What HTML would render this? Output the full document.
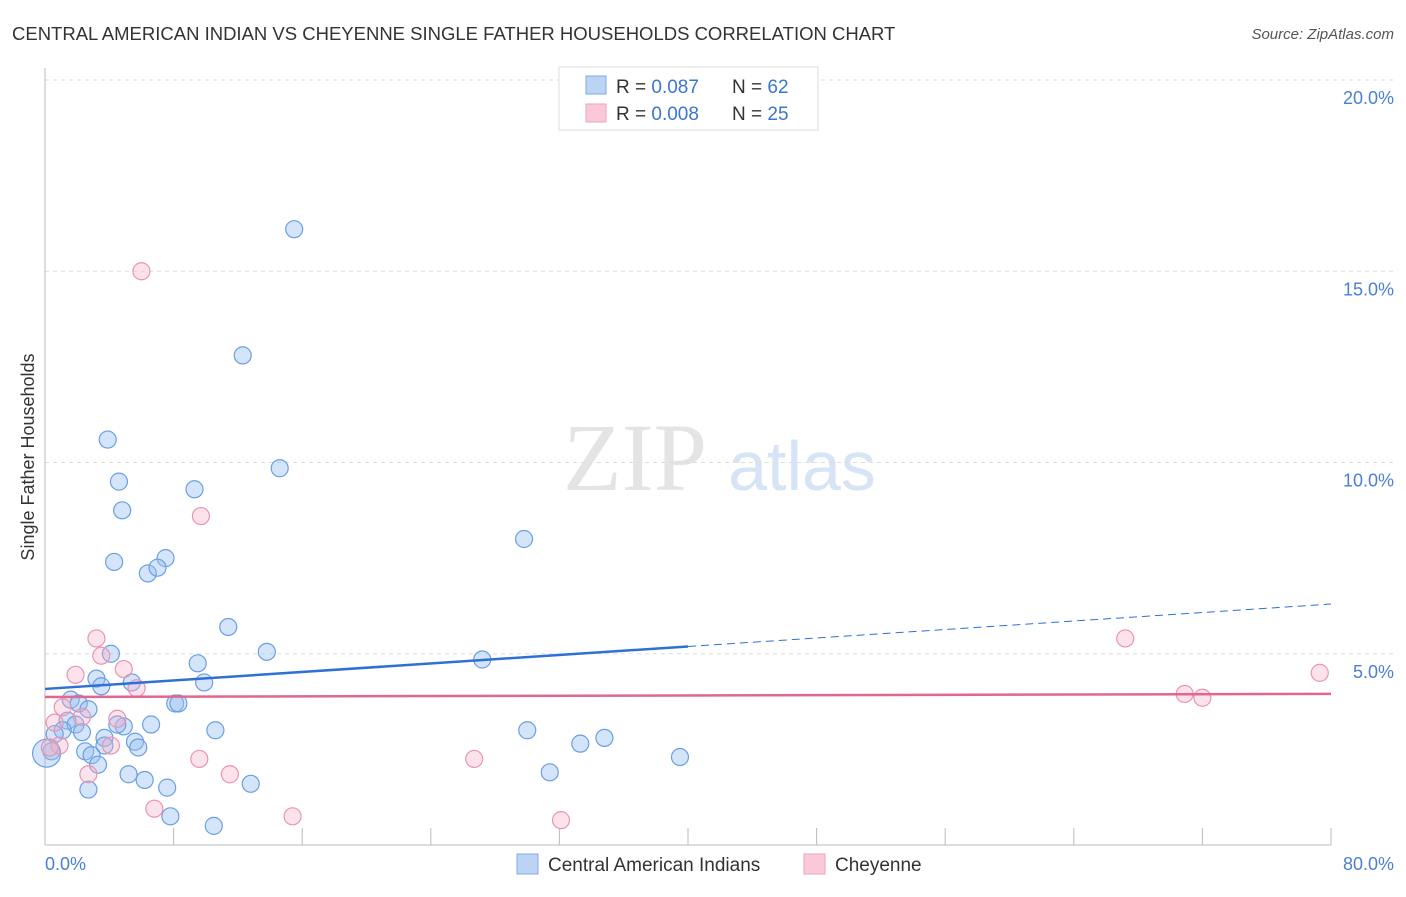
<!DOCTYPE html>
<html><head><meta charset="utf-8"><style>
body{margin:0;background:#fff;font-family:"Liberation Sans",sans-serif}
</style></head><body>
<svg width="1406" height="892" viewBox="0 0 1406 892" xmlns="http://www.w3.org/2000/svg" font-family="Liberation Sans, sans-serif">
<text x="12" y="40" font-size="18.5" fill="#333">CENTRAL AMERICAN INDIAN VS CHEYENNE SINGLE FATHER HOUSEHOLDS CORRELATION CHART</text>
<text x="1394" y="39" font-size="15" fill="#555" font-style="italic" text-anchor="end">Source: ZipAtlas.com</text>
<g><text x="635" y="490" font-size="96" fill="#e4e4e4" font-family="Liberation Serif, serif" text-anchor="middle">ZIP</text><text x="802" y="490" font-size="70" fill="#d6e4f5" text-anchor="middle">atlas</text></g>
<g id="grid"></g><g id="axes"></g><g id="pts"></g><g id="trend"></g>
<text transform="translate(34,457) rotate(-90)" font-size="18" fill="#333" text-anchor="middle">Single Father Households</text>
<text x="45" y="870" font-size="18" fill="#4a7fd4">0.0%</text>
<text x="1394" y="870" font-size="18" fill="#4a7fd4" text-anchor="end">80.0%</text>
<g>
<rect x="559" y="67" width="259" height="63" fill="#fff" stroke="#ddd"/>
<rect x="586" y="76" width="20" height="18" fill="#bcd4f4" stroke="#7fa9e4"/>
<rect x="586" y="104" width="20" height="18" fill="#f9c9d7" stroke="#eea2bb"/>
<text x="616" y="93" font-size="19" fill="#333">R = <tspan fill="#3a76d0">0.087</tspan>  <tspan x="732">N = </tspan><tspan fill="#3a76d0">62</tspan></text>
<text x="616" y="120" font-size="19" fill="#333">R = <tspan fill="#3a76d0">0.008</tspan>  <tspan x="732">N = </tspan><tspan fill="#3a76d0">25</tspan></text>
</g>
<g>
<rect x="517" y="854" width="21" height="20" fill="#bcd4f4" stroke="#7fa9e4"/>
<text x="548" y="871" font-size="19" fill="#333">Central American Indians</text>
<rect x="804" y="854" width="21" height="20" fill="#f9c9d7" stroke="#eea2bb"/>
<text x="835" y="871" font-size="19" fill="#333">Cheyenne</text>
</g>
</svg>
<script>
const yTicks=[5,10,15,20];
const yTickLabels=["5.0%","10.0%","15.0%","20.0%"];
const xTicks=[8,16,24,32,40,48,56,64,72,80];
const blueX=[15.5,12.3,3.9,14.6,4.6,9.3,4.8,29.8,4.3,7.5,6.4,7.0,11.4,13.8,4.1,9.5,27.2,3.2,3.5,5.4,9.9,8.1,8.3,1.6,2.1,2.7,6.6,4.9,4.5,1.4,1.9,1.1,2.3,0.6,10.6,30.0,34.8,3.7,5.6,5.8,3.7,33.3,2.5,2.9,3.3,0.4,0.1,39.5,5.2,6.2,7.6,12.8,31.4,2.7,7.8,10.5];
const blueY=[16.1,12.8,10.6,9.85,9.5,9.3,8.75,8.0,7.4,7.5,7.1,7.25,5.7,5.05,5.0,4.75,4.85,4.35,4.15,4.25,4.25,3.7,3.7,3.8,3.7,3.55,3.15,3.1,3.15,3.25,3.15,3.0,2.95,2.9,3.0,3.0,2.8,2.8,2.7,2.55,2.6,2.65,2.45,2.35,2.1,2.45,2.4,2.3,1.85,1.7,1.5,1.6,1.9,1.45,0.75,0.5];
const pinkX=[6.0,9.7,3.2,3.5,4.9,1.9,5.7,67.2,79.3,70.9,72.0,2.3,1.1,0.6,4.5,4.1,0.9,9.6,26.7,2.7,11.5,6.8,15.4,32.1,0.3];
const pinkY=[15.0,8.6,5.4,4.95,4.6,4.45,4.1,5.4,4.5,3.95,3.85,3.35,3.6,3.2,3.3,2.6,2.6,2.25,2.25,1.85,1.85,0.95,0.75,0.65,2.55];
const blueTrend=[4.08,6.3];
const pinkTrend=[3.87,3.95];
const NS="http://www.w3.org/2000/svg";
const X=v=>45+v/80*1286, Y=v=>845-v*38.25;
function mk(tag,attrs,parent){const e=document.createElementNS(NS,tag);for(const k in attrs)e.setAttribute(k,attrs[k]);document.getElementById(parent).appendChild(e);return e;}
yTicks.forEach((t,i)=>{
 const l=mk('line',{x1:45,x2:1394,y1:Y(t),y2:Y(t),stroke:'#ddd','stroke-dasharray':'4,4'},'grid');
 
 
 const tx=mk('text',{x:1394,y:Y(t)+24,'font-size':18,fill:'#4a7fd4','text-anchor':'end'},'grid');
 tx.textContent=yTickLabels[i];
 
 
});
const la=mk('line',{x1:45,x2:45,y1:68,y2:845,stroke:'#bbb'},'axes');


const lb=mk('line',{x1:45,x2:1331,y1:845,y2:845,stroke:'#bbb'},'axes');


xTicks.forEach(t=>{
 const l=mk('line',{x1:X(t),x2:X(t),y1:828,y2:845,stroke:'#bbb'},'axes');
 
 
});
blueX.forEach((v,i)=>{
 const c=mk('circle',{cx:X(v),cy:Y(blueY[i]),r:(v<0.3?14:8.5),fill:'rgba(150,190,240,0.4)',stroke:'#6a9fe0','stroke-width':1.2},'pts');
 
 
});
pinkX.forEach((v,i)=>{
 const c=mk('circle',{cx:X(v),cy:Y(pinkY[i]),r:8.5,fill:'rgba(245,175,198,0.35)',stroke:'#ea94b0','stroke-width':1.2},'pts');
 
 
});
const by=x=>blueTrend[0]+(blueTrend[1]-blueTrend[0])*x/80;
const b1=mk('line',{x1:X(0),y1:Y(by(0)),x2:X(40),y2:Y(by(40)),stroke:'#2f6fd6','stroke-width':2.5},'trend');


const b2=mk('line',{x1:X(40),y1:Y(by(40)),x2:X(80),y2:Y(by(80)),stroke:'#2f6fd6','stroke-width':1,'stroke-dasharray':'8,5'},'trend');


const p1=mk('line',{x1:X(0),y1:Y(pinkTrend[0]),x2:X(80),y2:Y(pinkTrend[1]),stroke:'#e2668f','stroke-width':2.5},'trend');


</script>
</body></html>
